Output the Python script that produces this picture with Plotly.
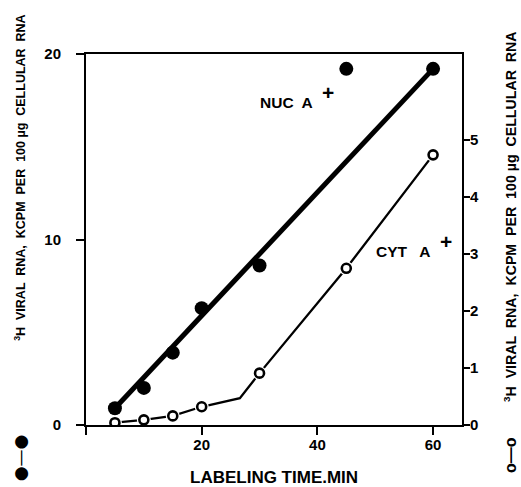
import plotly.graph_objects as go

# Data
nuc_time = [5, 10, 15, 20, 30, 45, 60]
nuc_kcpm = [0.9, 2.0, 3.9, 6.3, 8.6, 19.2, 19.2]
nuc_fit_time = [5, 60]
nuc_fit_kcpm = [0.9, 19.2]

cyt_time = [5, 10, 15, 20, 30, 45, 60]
cyt_kcpm = [0.04, 0.09, 0.16, 0.32, 0.91, 2.75, 4.74]
cyt_fit_time = [5, 10, 15, 20, 26.6, 30, 45, 60]
cyt_fit_kcpm = [0.04, 0.09, 0.16, 0.32, 0.47, 0.91, 2.75, 4.74]

x_ticks = [0, 20, 40, 60]
x_ticktext = [" ", "20", "40", "60"]
yl_ticks = [0, 10, 20]
yr_ticks = [0, 1, 2, 3, 4, 5]

FONT = "Liberation Sans, Arial, Helvetica, sans-serif"

fig = go.Figure()

# NUC regression line (left axis)
fig.add_trace(go.Scatter(x=nuc_fit_time, y=nuc_fit_kcpm, mode="lines",
                         line=dict(color="black", width=5), yaxis="y",
                         hoverinfo="skip"))
fig.add_trace(go.Scatter(x=nuc_time, y=nuc_kcpm, mode="markers",
                         marker=dict(color="black", size=14, symbol="circle"),
                         yaxis="y"))

# CYT line (right axis)
fig.add_trace(go.Scatter(x=cyt_fit_time, y=cyt_fit_kcpm, mode="lines",
                         line=dict(color="black", width=2.3), yaxis="y2",
                         hoverinfo="skip"))
# white halo for gaps around open circles
fig.add_trace(go.Scatter(x=cyt_time, y=cyt_kcpm, mode="markers",
                         marker=dict(color="white", size=14, symbol="circle"),
                         yaxis="y2", hoverinfo="skip"))
fig.add_trace(go.Scatter(x=cyt_time, y=cyt_kcpm, mode="markers",
                         marker=dict(color="white", size=9, symbol="circle",
                                     line=dict(color="black", width=2.6)),
                         yaxis="y2"))

axis_font = dict(family=FONT, size=15, color="black", weight="bold")

fig.update_layout(
    width=521, height=487,
    margin=dict(l=86, r=59, t=54, b=62),
    paper_bgcolor="white", plot_bgcolor="white",
    showlegend=False,
    xaxis=dict(range=[0, 65], tickvals=x_ticks, ticktext=x_ticktext,
               ticks="outside", ticklen=8, tickwidth=2, tickcolor="black",
               showline=True, linewidth=2, linecolor="black", mirror=True,
               showgrid=False, zeroline=False, tickfont=axis_font,
               ticklabelstandoff=-3),
    yaxis=dict(range=[0, 20], tickvals=yl_ticks, ticks="outside", ticklen=8,
               tickwidth=2, tickcolor="black", showline=True, linewidth=2,
               linecolor="black", showgrid=False, zeroline=False,
               tickfont=axis_font, ticklabelstandoff=12),
    yaxis2=dict(range=[0, 6.51], tickvals=yr_ticks, overlaying="y", side="right",
                ticks="outside", ticklen=6, tickwidth=2, tickcolor="black",
                showline=True, linewidth=2, linecolor="black", showgrid=False,
                zeroline=False, tickfont=axis_font, ticklabelstandoff=-3),
)

ann_font = dict(family=FONT, size=15.5, color="black", weight="bold")
plus_font = dict(family=FONT, size=21, color="black", weight="bold")
lab_font = dict(family=FONT, size=12.5, color="black", weight="bold")

# x-axis title
fig.add_annotation(x=(274 - 86) / 376, y=(425 - 477) / 371, xref="paper", yref="paper",
                   text="LABELING TIME.MIN", showarrow=False,
                   font=dict(family=FONT, size=17, color="black", weight="bold"),
                   xanchor="center", yanchor="middle")

fig.add_annotation(x=34.7, y=17.4, xref="x", yref="y", text="NUC  A",
                   showarrow=False, font=ann_font, xanchor="center", yanchor="middle")
fig.add_annotation(x=41.8, y=17.95, xref="x", yref="y", text="+",
                   showarrow=False, font=plus_font, xanchor="center", yanchor="middle")
fig.add_annotation(x=54.9, y=9.33, xref="x", yref="y", text="CYT   A",
                   showarrow=False, font=ann_font, xanchor="center", yanchor="middle")
fig.add_annotation(x=62.2, y=9.87, xref="x", yref="y", text="+",
                   showarrow=False, font=plus_font, xanchor="center", yanchor="middle")

# Left axis title
fig.add_annotation(x=-0.176, y=(425 - 178) / 371, xref="paper", yref="paper",
                   text="<sup>3</sup>H  VIRAL  RNA,  KCPM  PER  100 µg  CELLULAR  RNA",
                   textangle=-90, showarrow=False, font=lab_font,
                   xanchor="center", yanchor="middle")
fig.add_annotation(x=-0.176, y=(425 - 457.5) / 371, xref="paper", yref="paper",
                   text="●—●", textangle=-90, showarrow=False,
                   font=dict(family="DejaVu Sans", size=17, color="black"),
                   xanchor="center", yanchor="middle")

# Right axis title
fig.add_annotation(x=(510 - 86) / 376, y=(425 - 217) / 371, xref="paper", yref="paper",
                   text="<sup>3</sup>H  VIRAL  RNA,  KCPM  PER  100 µg  CELLULAR  RNA",
                   textangle=-90, showarrow=False,
                   font=dict(family=FONT, size=14.2, color="black", weight="bold"),
                   xanchor="center", yanchor="middle")
fig.add_annotation(x=(510 - 86) / 376, y=(425 - 455) / 371, xref="paper", yref="paper",
                   text="o—o", textangle=-90, showarrow=False,
                   font=dict(family=FONT, size=16, color="black", weight="bold"),
                   xanchor="center", yanchor="middle")

fig.write_html(
    "out.html",
    config={"displayModeBar": False},
    post_script="document.body.style.margin='0';document.body.style.overflow='hidden';",
)
